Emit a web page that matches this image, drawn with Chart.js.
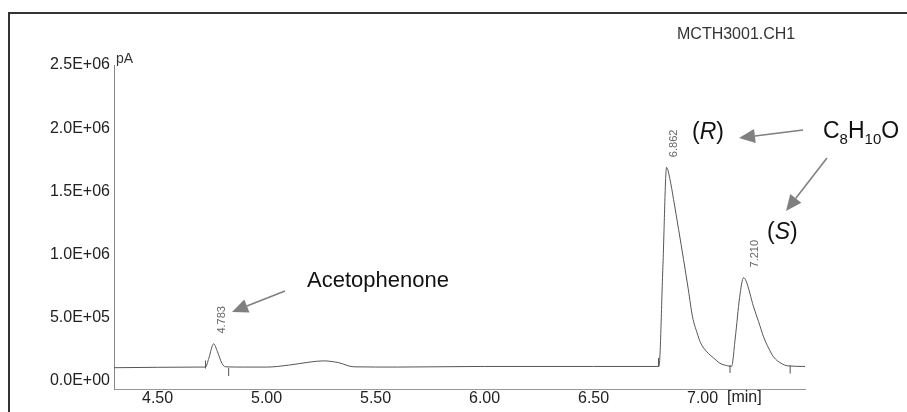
<!DOCTYPE html>
<html>
<head>
<meta charset="utf-8">
<title>MCTH3001.CH1</title>
<script src="https://cdn.jsdelivr.net/npm/chart.js@4.4.1/dist/chart.umd.min.js"></script>
<style>
  html, body { margin: 0; padding: 0; background: #fff; }
  #wrap { width: 907px; height: 412px; }
</style>
</head>
<body>
<div id="wrap"><canvas id="chrom" width="907" height="412"></canvas></div>
<script>
// ========================================
// CHROMATOGRAM DATA
// ========================================

// retention time [min]
const times = [
    4.30, 4.70, 4.720, 4.735, 4.757, 4.775, 4.795, 4.812, 4.90, 5.00,
    5.10, 5.20, 5.26, 5.33, 5.40, 5.60, 6.00, 6.50, 6.800, 6.818,
    6.835, 6.850, 6.867, 6.890, 6.913, 6.935, 6.954, 6.975, 6.991, 7.020,
    7.050, 7.080, 7.115, 7.133, 7.150, 7.170, 7.188, 7.200, 7.234, 7.257,
    7.280, 7.303, 7.326, 7.360, 7.390, 7.470
];
// detector signal [pA]
const signal = [
    105000, 110000, 110000, 180000, 294000, 230000, 140000, 112000, 110000, 110000,
    125000, 150000, 159000, 145000, 112000, 110000, 115000, 115000, 115000, 900000,
    1690000, 1600000, 1437000, 1200000, 960000, 720000, 508000, 380000, 302000, 230000,
    183000, 140000, 120000, 115000, 340000, 660000, 817000, 790000, 587000, 470000,
    349000, 260000, 190000, 140000, 120000, 115000
];

// integration start/stop ticks
const markerTimes = [4.720, 4.826, 6.798, 7.126, 7.402];
const markerLevels = [130000, 71000, 150000, 95000, 91000];

// peak apex labels
const peakLabels = ['4.783', '6.862', '7.210'];
const peakTimes = [4.783, 6.855, 7.225];
const peakHeights = [294000, 1690000, 817000];

// axis ticks
const xTickValues = [4.5, 5.0, 5.5, 6.0, 6.5, 7.0];
const xTickLabels = ['4.50', '5.00', '5.50', '6.00', '6.50', '7.00'];
const yTickValues = [0, 500000, 1000000, 1500000, 2000000, 2500000];
const yTickLabels = ['0.0E+00', '5.0E+05', '1.0E+06', '1.5E+06', '2.0E+06', '2.5E+06'];

const FONT = '"Liberation Sans", Arial, sans-serif';

function arrow(ctx, x1, y1, x2, y2) {
    const ang = Math.atan2(y2 - y1, x2 - x1);
    const len = 16, half = 7;
    const bx = x2 - len * Math.cos(ang), by = y2 - len * Math.sin(ang);
    ctx.save();
    ctx.strokeStyle = '#808080';
    ctx.fillStyle = '#808080';
    ctx.lineWidth = 1.6;
    ctx.beginPath();
    ctx.moveTo(x1, y1);
    ctx.lineTo(bx, by);
    ctx.stroke();
    ctx.beginPath();
    ctx.moveTo(x2, y2);
    ctx.lineTo(bx + half * Math.sin(ang), by - half * Math.cos(ang));
    ctx.lineTo(bx - half * Math.sin(ang), by + half * Math.cos(ang));
    ctx.closePath();
    ctx.fill();
    ctx.restore();
}

// text with an italic middle part, e.g. (R)
function italicTag(ctx, letter, x, y) {
    ctx.font = '23px ' + FONT;
    ctx.fillText('(', x, y);
    let w = ctx.measureText('(').width;
    ctx.font = 'italic 23px ' + FONT;
    ctx.fillText(letter, x + w, y);
    w += ctx.measureText(letter).width;
    ctx.font = '23px ' + FONT;
    ctx.fillText(')', x + w, y);
}

// frame, labels and arrows on top of the chart
const decorPlugin = {
    id: 'decor',
    afterDraw(chart) {
        const ctx = chart.ctx;
        const xs = chart.scales.x, ys = chart.scales.y;
        ctx.save();

        // report frame
        ctx.strokeStyle = '#333';
        ctx.lineWidth = 2;
        ctx.beginPath();
        ctx.moveTo(9, 412);
        ctx.lineTo(9, 13);
        ctx.lineTo(907, 13);
        ctx.stroke();

        ctx.fillStyle = '#333';
        ctx.textBaseline = 'middle';
        ctx.textAlign = 'left';
        ctx.font = '16px ' + FONT;
        ctx.fillText('MCTH3001.CH1', 677, 35);
        ctx.font = '14px ' + FONT;
        ctx.fillText('pA', 116, 59);
        ctx.fillStyle = '#222';
        ctx.font = '16px ' + FONT;
        ctx.fillText('[min]', 727, 398);

        // peak apex labels, rotated
        ctx.fillStyle = '#666';
        ctx.font = '11px ' + FONT;
        ctx.textAlign = 'center';
        peakLabels.forEach((lab, i) => {
            const px = xs.getPixelForValue(peakTimes[i]) + 3;
            const py = ys.getPixelForValue(peakHeights[i]) - 24;
            ctx.save();
            ctx.translate(px, py);
            ctx.rotate(-Math.PI / 2);
            ctx.fillText(lab, 0, 0);
            ctx.restore();
        });

        // annotations
        ctx.fillStyle = '#111';
        ctx.textAlign = 'left';
        ctx.font = '22px ' + FONT;
        ctx.fillText('Acetophenone', 307, 281);
        italicTag(ctx, 'R', 692, 133);
        italicTag(ctx, 'S', 767, 233);

        // C8H10O with subscripts
        let cx = 823;
        const parts = [['C', false], ['8', true], ['H', false], ['10', true], ['O', false]];
        parts.forEach(([s, sub]) => {
            ctx.font = (sub ? '15px ' : '23px ') + FONT;
            ctx.fillText(s, cx, sub ? 140 : 132);
            cx += ctx.measureText(s).width;
        });

        arrow(ctx, 285, 291, 232, 312);
        arrow(ctx, 803, 130, 739, 138);
        arrow(ctx, 827, 158, 786, 211);

        ctx.restore();
    }
};

const traceData = times.map((t, i) => ({ x: t, y: signal[i] }));
const markerData = markerTimes.map((t, i) => ({ x: t, y: markerLevels[i] }));

new Chart(document.getElementById('chrom').getContext('2d'), {
    type: 'line',
    data: {
        datasets: [
            {
                label: 'FID',
                data: traceData,
                borderColor: '#555',
                borderWidth: 1,
                pointRadius: 0,
                cubicInterpolationMode: 'monotone',
                fill: false
            },
            {
                label: 'events',
                type: 'scatter',
                data: markerData,
                pointStyle: 'line',
                rotation: 90,
                radius: 4,
                borderColor: '#555',
                borderWidth: 1,
                showLine: false
            }
        ]
    },
    options: {
        responsive: false,
        animation: false,
        layout: { padding: { left: 0, top: 65, right: 102, bottom: 0 } },
        plugins: { legend: { display: false }, tooltip: { enabled: false } },
        scales: {
            x: {
                type: 'linear',
                min: 4.30,
                max: 7.47,
                afterBuildTicks: s => { s.ticks = xTickValues.map(v => ({ value: v })); },
                afterFit: s => { s.height = 23; },
                grid: { display: false, drawTicks: false },
                border: { color: '#999', width: 1 },
                ticks: {
                    padding: 0,
                    color: '#222',
                    font: { family: FONT, size: 16 },
                    maxRotation: 0,
                    callback: (v, i) => xTickLabels[i]
                }
            },
            y: {
                min: -63500,
                max: 2500000,
                afterBuildTicks: s => { s.ticks = yTickValues.map(v => ({ value: v })); },
                afterFit: s => { s.width = 114; },
                grid: { display: false, drawTicks: false },
                border: { color: '#888', width: 1, dash: [3, 2] },
                ticks: {
                    padding: 4,
                    color: '#222',
                    font: { family: FONT, size: 16 },
                    callback: (v, i) => yTickLabels[i]
                }
            }
        }
    },
    plugins: [decorPlugin]
});
</script>
</body>
</html>
